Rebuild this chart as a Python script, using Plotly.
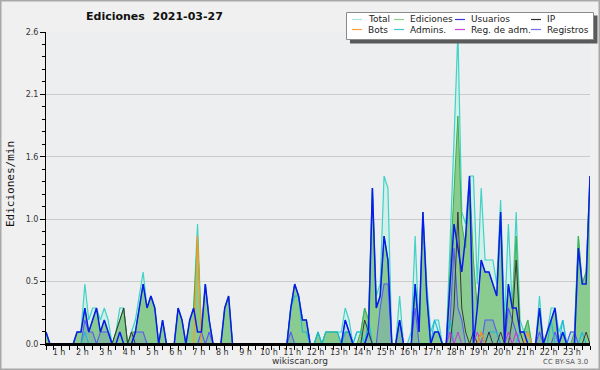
import plotly.graph_objects as go

# ---- data: 10-minute bins from 00:00 to 23:20, edits per minute ----
total = [0.1, 0, 0, 0, 0, 0, 0, 0, 0.1, 0.1, 0.5, 0.2,
         0.3, 0.3, 0.2, 0.3, 0.2, 0, 0.1, 0.3, 0.3, 0, 0.1, 0.2,
         0.4, 0.6, 0.3, 0.4, 0.3, 0, 0.2, 0, 0, 0, 0.3, 0.2,
         0, 0.2, 0.3, 1.0, 0.1, 0.5, 0.2, 0, 0, 0, 0.3, 0.4,
         0, 0, 0, 0, 0, 0, 0, 0, 0, 0, 0, 0,
         0, 0, 0, 0.3, 0.5, 0.4, 0.2, 0.2, 0, 0, 0.1, 0,
         0.1, 0.1, 0.1, 0.1, 0.1, 0.3, 0.2, 0, 0.1, 0.1, 0.3, 0.2,
         1.3, 0.4, 0.5, 1.4, 1.3, 0, 0, 0.4, 0, 0, 0.1, 0.9,
         0.1, 1.1, 0.5, 0.1, 0.2, 0.2, 0, 0, 0.8, 1.7, 2.6, 1.1,
         1.0, 1.4, 1.4, 0.5, 1.3, 0.7, 0.7, 0.7, 0.5, 1.2, 0.2, 1.0,
         0.3, 1.1, 0.2, 0.1, 0.2, 0, 0, 0.4, 0, 0.1, 0.3, 0.3,
         0.1, 0.2, 0, 0.1, 0.1, 0.9, 0.5, 0.6, 1.4]

ediciones = [0.1, 0, 0, 0, 0, 0, 0, 0, 0.1, 0.1, 0.3, 0.1,
             0.2, 0.3, 0.1, 0.2, 0.1, 0, 0.1, 0.2, 0.3, 0, 0.1, 0.1,
             0.3, 0.5, 0.3, 0.4, 0.3, 0, 0.2, 0, 0, 0, 0.3, 0.2,
             0, 0.2, 0.3, 0.9, 0.1, 0.5, 0.2, 0, 0, 0, 0.3, 0.4,
             0, 0, 0, 0, 0, 0, 0, 0, 0, 0, 0, 0,
             0, 0, 0, 0.3, 0.5, 0.4, 0.2, 0.2, 0, 0, 0.1, 0,
             0.1, 0.1, 0.1, 0.1, 0, 0.1, 0.1, 0, 0, 0.1, 0.3, 0.2,
             1.3, 0.3, 0.4, 0.9, 0.7, 0, 0, 0.2, 0, 0, 0, 0.5,
             0.1, 1.1, 0.4, 0, 0.1, 0.1, 0, 0, 0.6, 1.2, 1.9, 1.0,
             0.8, 1.4, 0.7, 0.3, 0.7, 0.6, 0.6, 0.5, 0.4, 1.1, 0.1, 0.5,
             0.3, 0.9, 0.1, 0.1, 0.2, 0, 0, 0.3, 0, 0.1, 0.2, 0.3,
             0, 0.1, 0, 0, 0.1, 0.9, 0.5, 0.6, 1.4]

usuarios = [0.1, 0, 0, 0, 0, 0, 0, 0, 0.1, 0.1, 0.3, 0.1,
            0.2, 0.3, 0.1, 0.2, 0.1, 0, 0, 0.1, 0, 0, 0, 0.1,
            0.3, 0.5, 0.3, 0.4, 0.3, 0, 0.2, 0, 0, 0, 0.3, 0.2,
            0, 0.2, 0.3, 0.1, 0.1, 0.5, 0.2, 0, 0, 0, 0.3, 0.4,
            0, 0, 0, 0, 0, 0, 0, 0, 0, 0, 0, 0,
            0, 0, 0, 0.3, 0.5, 0.4, 0.2, 0.2, 0, 0, 0, 0,
            0, 0, 0, 0, 0, 0.2, 0.1, 0, 0, 0, 0, 0.1,
            1.3, 0.3, 0.4, 0.9, 0.7, 0, 0, 0.2, 0, 0, 0, 0.5,
            0.1, 1.1, 0.4, 0, 0.1, 0.1, 0, 0, 0.5, 1.0, 0.8, 0.6,
            0.9, 1.4, 0, 0.3, 0.7, 0.6, 0.6, 0.5, 0.4, 1.1, 0, 0.5,
            0.3, 0.3, 0.1, 0.1, 0, 0, 0, 0.3, 0, 0.1, 0.2, 0.3,
            0, 0.1, 0, 0, 0, 0.8, 0.5, 0.5, 1.4]

ip = [0, 0, 0, 0, 0, 0, 0, 0, 0, 0, 0, 0,
      0, 0, 0, 0, 0, 0, 0.1, 0.2, 0.3, 0, 0.1, 0,
      0, 0, 0, 0, 0, 0, 0, 0, 0, 0, 0, 0,
      0, 0, 0, 0, 0, 0, 0, 0, 0, 0, 0, 0,
      0, 0, 0, 0, 0, 0, 0, 0, 0, 0, 0, 0,
      0, 0, 0, 0, 0, 0, 0, 0, 0, 0, 0, 0,
      0, 0, 0, 0, 0, 0, 0, 0, 0, 0, 0.2, 0.1,
      0, 0, 0, 0, 0, 0, 0, 0, 0, 0, 0, 0,
      0, 0, 0, 0, 0, 0, 0, 0, 0, 0.3, 1.1, 0.3,
      0.1, 0, 0.1, 0, 0.1, 0, 0.1, 0, 0, 0.1, 0, 0,
      0.2, 0.7, 0.1, 0, 0, 0, 0, 0, 0, 0, 0, 0,
      0, 0, 0, 0, 0, 0, 0, 0.1, 0]

bots = [0, 0, 0, 0, 0, 0, 0, 0, 0, 0, 0, 0,
        0, 0, 0, 0, 0, 0, 0, 0, 0, 0, 0, 0,
        0, 0, 0, 0, 0, 0, 0, 0, 0, 0, 0, 0,
        0, 0, 0, 0.9, 0, 0, 0, 0, 0, 0, 0, 0,
        0, 0, 0, 0, 0, 0, 0, 0, 0, 0, 0, 0,
        0, 0, 0, 0, 0, 0, 0, 0, 0, 0, 0, 0,
        0, 0, 0, 0, 0, 0, 0, 0, 0, 0, 0, 0,
        0, 0, 0, 0, 0, 0, 0, 0, 0, 0, 0, 0,
        0, 0, 0, 0, 0, 0, 0, 0, 0, 0, 0, 0,
        0, 0, 0, 0, 0.1, 0, 0, 0, 0, 0, 0, 0,
        0, 0, 0, 0, 0.1, 0, 0, 0, 0, 0, 0, 0,
        0, 0, 0, 0, 0, 0, 0, 0, 0]

admins = [0, 0, 0, 0, 0, 0, 0, 0, 0, 0, 0.1, 0,
          0, 0, 0, 0, 0, 0, 0, 0, 0, 0, 0, 0,
          0, 0, 0, 0, 0, 0, 0, 0, 0, 0, 0, 0,
          0, 0, 0, 0, 0, 0, 0, 0, 0, 0, 0, 0,
          0, 0, 0, 0, 0, 0, 0, 0, 0, 0, 0, 0,
          0, 0, 0, 0.3, 0.4, 0.4, 0.1, 0.1, 0, 0, 0.1, 0,
          0.1, 0.1, 0.1, 0.1, 0, 0.1, 0.1, 0, 0.1, 0.1, 0, 0.2,
          0, 0, 0, 0, 0, 0, 0, 0, 0, 0, 0, 0,
          0, 0, 0, 0, 0.2, 0.1, 0, 0, 0.2, 0, 0, 0,
          0, 0, 0, 0, 0, 0, 0.1, 0.1, 0.1, 0, 0, 0,
          0, 0, 0.1, 0.1, 0.1, 0, 0, 0, 0, 0, 0.2, 0,
          0, 0.2, 0, 0, 0, 0, 0.1, 0, 0]

reg_adm = [0, 0, 0, 0, 0, 0, 0, 0, 0, 0, 0, 0,
           0, 0, 0, 0, 0, 0, 0, 0, 0, 0, 0, 0,
           0, 0, 0, 0, 0, 0, 0, 0, 0, 0, 0, 0,
           0, 0, 0, 0, 0, 0, 0, 0, 0, 0, 0, 0,
           0, 0, 0, 0, 0, 0, 0, 0, 0, 0, 0, 0,
           0, 0, 0, 0, 0, 0, 0, 0, 0, 0, 0, 0,
           0, 0, 0, 0, 0, 0, 0, 0, 0, 0, 0, 0,
           0, 0, 0, 0, 0, 0, 0, 0, 0, 0, 0, 0,
           0, 0, 0, 0, 0, 0, 0, 0, 0.1, 0, 0.1, 0,
           0, 0, 0, 0.1, 0, 0, 0, 0, 0, 0, 0, 0.1,
           0, 0.1, 0, 0, 0, 0, 0, 0, 0, 0, 0, 0,
           0, 0, 0, 0, 0, 0, 0, 0, 0]

registros = [0, 0, 0, 0, 0, 0, 0, 0, 0, 0, 0.2, 0.1,
             0.1, 0, 0.1, 0.1, 0.1, 0, 0, 0, 0, 0, 0, 0.1,
             0.1, 0.1, 0, 0, 0, 0, 0, 0, 0, 0, 0, 0,
             0, 0, 0, 0, 0.1, 0, 0.1, 0, 0, 0, 0, 0,
             0, 0, 0, 0, 0, 0, 0, 0, 0, 0, 0, 0,
             0, 0, 0, 0.1, 0, 0, 0, 0, 0, 0, 0, 0,
             0, 0, 0, 0, 0, 0.2, 0.1, 0, 0, 0, 0, 0.1,
             0, 0, 0.3, 0.5, 0.5, 0, 0, 0.2, 0, 0, 0, 0.3,
             0, 0, 0, 0, 0, 0, 0, 0, 0.2, 0.8, 0.3, 0.2,
             0, 0, 0, 0, 0, 0.2, 0.2, 0.2, 0.1, 0, 0, 0.3,
             0.2, 0.1, 0, 0, 0, 0, 0, 0.1, 0, 0, 0, 0.1,
             0, 0, 0, 0.1, 0.1, 0, 0, 0, 0]

hour_vals = list(range(1, 24))
hour_labels = [f"{h} h" for h in hour_vals]
ytick_vals = [0, 0.52, 1.04, 1.56, 2.08, 2.6]
ytick_text = ["0.0", "0.5", "1.0", "1.6", "2.1", "2.6"]

legend_labels = ["Total", "Ediciones", "Usuarios", "IP",
                 "Bots", "Admins.", "Reg. de adm.", "Registros"]
legend_colors = ["#a8e6e2", "#88d088", "#3434e0", "#303030",
                 "#ffa040", "#40c8d8", "#d040e0", "#7070f0"]

# x in hours (10-minute bins)
hours = [i * 10 / 60 for i in range(len(total))]

fig = go.Figure()

def add(y, color, width, fill=None):
    fig.add_trace(go.Scatter(
        x=hours, y=y, mode="lines",
        line=dict(color=color, width=width),
        fill="tozeroy" if fill else None,
        fillcolor=fill,
        showlegend=False, hoverinfo="skip"))

add(total, "#3fd2c6", 1.2, "rgba(200,240,232,0.75)")
add(ediciones, "#44ae44", 1.0, "rgba(110,190,110,0.72)")
add(registros, "#5a5af0", 1.1, "rgba(90,90,235,0.15)")
add(admins, "#1cb8dc", 1.1)
add(ip, "#383838", 1.0)
add(reg_adm, "#cc33dd", 1.0)
add(bots, "#ff9922", 1.2)
add(usuarios, "#0a1aee", 1.5)

# layout geometry in pixels
W, H = 600, 370
L, R, T, B = 46, 10, 32, 26
PW, PH = W - L - R, H - T - B

def px(x):
    return (x - L) / PW

def py(y):
    return (H - B - y) / PH

shapes = []
annotations = []

# black baseline over zero-valued line segments
shapes.append(dict(type="line", xref="paper", yref="paper",
                   x0=0, x1=1, y0=0, y1=0,
                   line=dict(color="black", width=2), layer="above"))

# outer frame
shapes.append(dict(type="rect", xref="paper", yref="paper",
                   x0=px(0.75), x1=px(599.25), y0=py(369.25), y1=py(0.75),
                   line=dict(color="#a8a8a8", width=1.5), fillcolor="rgba(0,0,0,0)",
                   layer="above"))

# legend box with shadow
shapes.append(dict(type="rect", xref="paper", yref="paper",
                   x0=px(350), x1=px(597.5), y0=py(43.5), y1=py(15.5),
                   line=dict(width=0), fillcolor="#5a5a5a", layer="above"))
shapes.append(dict(type="rect", xref="paper", yref="paper",
                   x0=px(346.5), x1=px(593.5), y0=py(39.5), y1=py(12.5),
                   line=dict(color="#8a8a8a", width=1), fillcolor="#ffffff", layer="above"))

col_text_x = [366, 408, 469, 545]
row_y = [19.5, 29.5]
for k, (lab, col) in enumerate(zip(legend_labels, legend_colors)):
    r, c = divmod(k, 4)
    tx = col_text_x[c]
    yy = row_y[r]
    shapes.append(dict(type="line", xref="paper", yref="paper",
                       x0=px(tx - 14), x1=px(tx - 4), y0=py(yy), y1=py(yy),
                       line=dict(color=col, width=1.2), layer="above"))
    annotations.append(dict(text=lab, xref="paper", yref="paper",
                            x=px(tx), y=py(yy), xanchor="left", yanchor="middle",
                            showarrow=False,
                            font=dict(family="DejaVu Sans", size=9, color="#222222")))

# title
annotations.append(dict(text="<b>Ediciones  2021-03-27</b>", xref="paper", yref="paper",
                        x=px(154), y=py(16.5), xanchor="center", yanchor="middle",
                        showarrow=False,
                        font=dict(family="DejaVu Sans", size=11, color="#111111")))
# y title
annotations.append(dict(text="Ediciones/min", xref="paper", yref="paper",
                        x=px(10), y=py(184), xanchor="center", yanchor="middle",
                        textangle=-90, showarrow=False,
                        font=dict(family="DejaVu Sans Mono", size=11, color="#111111")))
# footer
annotations.append(dict(text="wikiscan.org", xref="paper", yref="paper",
                        x=px(300), y=py(361), xanchor="center", yanchor="middle",
                        showarrow=False,
                        font=dict(family="DejaVu Sans", size=9, color="#333333")))
annotations.append(dict(text="CC BY-SA 3.0", xref="paper", yref="paper",
                        x=px(590), y=py(362), xanchor="right", yanchor="middle",
                        showarrow=False,
                        font=dict(family="DejaVu Sans", size=7, color="#555555")))

fig.update_layout(
    width=W, height=H,
    margin=dict(l=L, r=R, t=T, b=B),
    paper_bgcolor="#f0f0f0",
    plot_bgcolor="#edeef0",
    showlegend=False,
    shapes=shapes,
    annotations=annotations,
    xaxis=dict(
        range=[0, (len(total) - 1) / 6],
        showgrid=False, zeroline=False,
        showline=True, linecolor="black", linewidth=1.5,
        ticks="", tickmode="array",
        tickvals=[h - 0.44 for h in hour_vals], ticktext=hour_labels,
        tickfont=dict(family="DejaVu Sans", size=8, color="#333333"),
        minor=dict(ticks="outside", tickmode="linear", tick0=0, dtick=1 / 3,
                   ticklen=4, tickcolor="black", tickwidth=1, showgrid=False),
        fixedrange=True,
    ),
    yaxis=dict(
        range=[0, 2.6],
        tickmode="array", tickvals=ytick_vals, ticktext=ytick_text,
        ticks="outside", ticklen=5, tickcolor="black", tickwidth=1,
        showline=True, linecolor="black", linewidth=1,
        showgrid=True, gridcolor="#cbcbcb", gridwidth=1, zeroline=False,
        tickfont=dict(family="DejaVu Sans", size=8, color="#333333"),
        minor=dict(ticks="outside", tickmode="linear", tick0=0, dtick=0.104,
                   ticklen=3, tickcolor="black", tickwidth=1, showgrid=False),
        fixedrange=True,
    ),
)

fig.write_html("out.html")
